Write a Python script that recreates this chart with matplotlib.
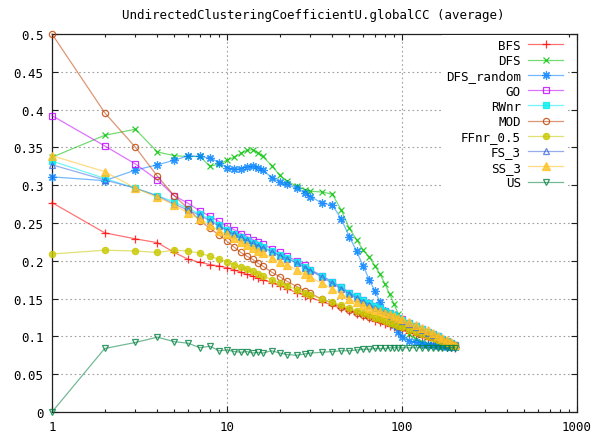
import matplotlib
matplotlib.use('Agg')
import matplotlib.pyplot as plt
from matplotlib.ticker import FixedLocator, FuncFormatter, NullFormatter

# sample sizes (x) shared by all series
sizes = [1, 2, 3, 4, 5, 6, 7, 8, 9, 10, 11, 12, 13, 14, 15, 16, 18, 20, 22, 25,
         28, 30, 35, 40, 45, 50, 55, 60, 65, 70, 75, 80, 85, 90, 95, 100,
         110, 120, 130, 140, 150, 160, 170, 180, 190, 200]

bfs = [0.277, 0.237, 0.229, 0.224, 0.211, 0.202, 0.198, 0.195, 0.193, 0.191,
       0.188, 0.185, 0.182, 0.180, 0.177, 0.175, 0.171, 0.167, 0.163, 0.158,
       0.154, 0.151, 0.146, 0.141, 0.137, 0.133, 0.130, 0.127, 0.124, 0.121,
       0.119, 0.116, 0.114, 0.112, 0.110, 0.108, 0.105, 0.102, 0.099, 0.097,
       0.095, 0.093, 0.091, 0.089, 0.087, 0.085]
dfs = [0.337, 0.366, 0.374, 0.344, 0.339, 0.338, 0.338, 0.325, 0.328, 0.333,
       0.337, 0.342, 0.346, 0.347, 0.343, 0.338, 0.326, 0.313, 0.305, 0.299,
       0.294, 0.292, 0.291, 0.288, 0.267, 0.243, 0.228, 0.214, 0.205, 0.193,
       0.182, 0.169, 0.156, 0.143, 0.130, 0.118, 0.103, 0.096, 0.092, 0.090,
       0.089, 0.088, 0.087, 0.087, 0.086, 0.086]
dfs_random = [0.311, 0.306, 0.320, 0.327, 0.333, 0.339, 0.338, 0.336, 0.330, 0.323,
              0.321, 0.322, 0.324, 0.325, 0.323, 0.320, 0.310, 0.304, 0.301, 0.296,
              0.290, 0.285, 0.276, 0.274, 0.255, 0.232, 0.213, 0.193, 0.175, 0.160,
              0.145, 0.133, 0.124, 0.115, 0.106, 0.099, 0.094, 0.092, 0.090, 0.089,
              0.088, 0.087, 0.087, 0.086, 0.086, 0.086]
go = [0.392, 0.352, 0.328, 0.307, 0.286, 0.276, 0.266, 0.259, 0.252, 0.246,
      0.241, 0.236, 0.232, 0.228, 0.225, 0.222, 0.216, 0.211, 0.206, 0.200,
      0.194, 0.188, 0.180, 0.172, 0.165, 0.158, 0.153, 0.148, 0.144, 0.140,
      0.137, 0.134, 0.131, 0.128, 0.125, 0.123, 0.118, 0.114, 0.110, 0.106,
      0.103, 0.100, 0.097, 0.094, 0.091, 0.088]
rwnr = [0.332, 0.309, 0.296, 0.286, 0.278, 0.269, 0.262, 0.255, 0.248, 0.241,
        0.236, 0.232, 0.228, 0.224, 0.221, 0.218, 0.213, 0.208, 0.204, 0.198,
        0.192, 0.188, 0.180, 0.172, 0.165, 0.158, 0.153, 0.148, 0.144, 0.140,
        0.137, 0.134, 0.131, 0.128, 0.125, 0.122, 0.118, 0.114, 0.110, 0.106,
        0.103, 0.100, 0.097, 0.094, 0.091, 0.089]
mod = [0.500, 0.396, 0.350, 0.312, 0.286, 0.269, 0.253, 0.243, 0.234, 0.226,
       0.218, 0.211, 0.206, 0.202, 0.197, 0.193, 0.185, 0.179, 0.173, 0.166,
       0.160, 0.157, 0.149, 0.144, 0.139, 0.135, 0.131, 0.128, 0.126, 0.124,
       0.122, 0.120, 0.118, 0.116, 0.114, 0.113, 0.110, 0.107, 0.105, 0.102,
       0.100, 0.097, 0.095, 0.092, 0.090, 0.088]
ffnr = [0.209, 0.214, 0.213, 0.211, 0.214, 0.213, 0.210, 0.206, 0.202, 0.199,
        0.195, 0.192, 0.189, 0.186, 0.183, 0.180, 0.175, 0.171, 0.167, 0.162,
        0.157, 0.155, 0.149, 0.145, 0.141, 0.137, 0.134, 0.131, 0.128, 0.125,
        0.123, 0.121, 0.118, 0.116, 0.114, 0.112, 0.109, 0.106, 0.103, 0.100,
        0.098, 0.095, 0.093, 0.091, 0.089, 0.087]
fs3 = [0.327, 0.307, 0.296, 0.286, 0.275, 0.267, 0.260, 0.253, 0.246, 0.240,
       0.235, 0.231, 0.227, 0.223, 0.220, 0.217, 0.212, 0.207, 0.203, 0.197,
       0.191, 0.187, 0.178, 0.170, 0.163, 0.156, 0.151, 0.146, 0.142, 0.138,
       0.135, 0.132, 0.129, 0.126, 0.123, 0.120, 0.116, 0.112, 0.108, 0.105,
       0.102, 0.099, 0.096, 0.093, 0.090, 0.088]
ss3 = [0.339, 0.318, 0.296, 0.284, 0.274, 0.263, 0.255, 0.247, 0.240, 0.235,
       0.230, 0.225, 0.221, 0.217, 0.213, 0.210, 0.204, 0.199, 0.195, 0.188,
       0.182, 0.178, 0.170, 0.163, 0.156, 0.149, 0.145, 0.141, 0.138, 0.135,
       0.133, 0.131, 0.129, 0.127, 0.125, 0.123, 0.119, 0.115, 0.111, 0.108,
       0.104, 0.101, 0.098, 0.095, 0.092, 0.089]
us = [0.000, 0.084, 0.092, 0.099, 0.093, 0.091, 0.085, 0.087, 0.081, 0.082,
      0.080, 0.079, 0.080, 0.078, 0.079, 0.078, 0.081, 0.078, 0.076, 0.075,
      0.077, 0.078, 0.079, 0.080, 0.081, 0.081, 0.082, 0.083, 0.083, 0.084,
      0.084, 0.084, 0.085, 0.085, 0.085, 0.085, 0.085, 0.085, 0.085, 0.085,
      0.085, 0.085, 0.085, 0.085, 0.085, 0.085]

labels = ['BFS', 'DFS', 'DFS_random', 'GO', 'RWnr', 'MOD', 'FFnr_0.5', 'FS_3', 'SS_3', 'US']
colors = ['#ff0000', '#00c000', '#0080ff', '#c000ff', '#00eeee',
          '#c04000', '#c8c800', '#4169e1', '#ffc020', '#008040']
series = [bfs, dfs, dfs_random, go, rwnr, mod, ffnr, fs3, ss3, us]

# gnuplot point types 1..10
markers = ['+', 'x', (8, 2, 0), 's', 's', 'o', 'o', '^', '^', 'v']
filled = [False, False, False, False, True, False, True, False, True, False]
msizes = [6, 5, 6, 5, 5, 4.5, 4.5, 5, 5.5, 5]

plt.rcParams['font.family'] = ['DejaVu Sans Mono']
plt.rcParams['font.size'] = 9

fig = plt.figure(figsize=(6.13, 4.39), dpi=100)
ax = fig.add_axes([52 / 613, 26 / 439, 525 / 613, 378 / 439])

for ys, lab, c, m, f, ms in zip(series, labels, colors, markers, filled, msizes):
    rgb = matplotlib.colors.to_rgb(c)
    ax.plot(sizes, ys, color=rgb + (0.55,), lw=0.9, marker=m, ms=ms,
            mew=0.9, mec=rgb + (0.8,), mfc=(rgb + (0.8,)) if f else 'none',
            label=lab, clip_on=False, zorder=3)

ax.set_xscale('log')
ax.set_xlim(1, 1000)
ax.set_ylim(0, 0.5)

ax.xaxis.set_major_locator(FixedLocator([1, 10, 100, 1000]))
ax.xaxis.set_major_formatter(FuncFormatter(lambda v, p: '%g' % v))
ax.xaxis.set_minor_locator(FixedLocator([k * 10 ** d for d in range(3) for k in range(2, 10)]))
ax.xaxis.set_minor_formatter(NullFormatter())
yt = [i * 0.05 for i in range(11)]
ax.yaxis.set_major_locator(FixedLocator(yt))
ax.yaxis.set_major_formatter(FuncFormatter(lambda v, p: '%g' % round(v, 2)))

ax.tick_params(which='both', direction='in', top=True, right=True, width=0.8, color='#202020')
ax.tick_params(which='major', length=4.5, pad=6)
ax.tick_params(which='minor', length=2.5)
for s in ax.spines.values():
    s.set_linewidth(0.9)
    s.set_color('#202020')

ax.grid(True, which='major', color='#a0a0a0', lw=0.8, linestyle=(0, (1.5, 2.5)), zorder=0)
ax.set_axisbelow(True)

# markerfirst=False puts labels on the left, right-aligned against the samples
leg = ax.legend(loc='upper right', bbox_to_anchor=(567 / 613, (439 - 36) / 439),
                bbox_transform=fig.transFigure, markerfirst=False, frameon=True,
                facecolor='white', edgecolor='none', framealpha=1, fancybox=False,
                borderpad=0.3, borderaxespad=0, handlelength=2.8, handletextpad=0.6,
                labelspacing=0.18, fontsize=9)
leg.set_zorder(5)

fig.text(313 / 613, 1 - 16 / 439, 'UndirectedClusteringCoefficientU.globalCC (average)',
         ha='center', va='center', fontsize=9)

fig.savefig('out.png', dpi=100)
